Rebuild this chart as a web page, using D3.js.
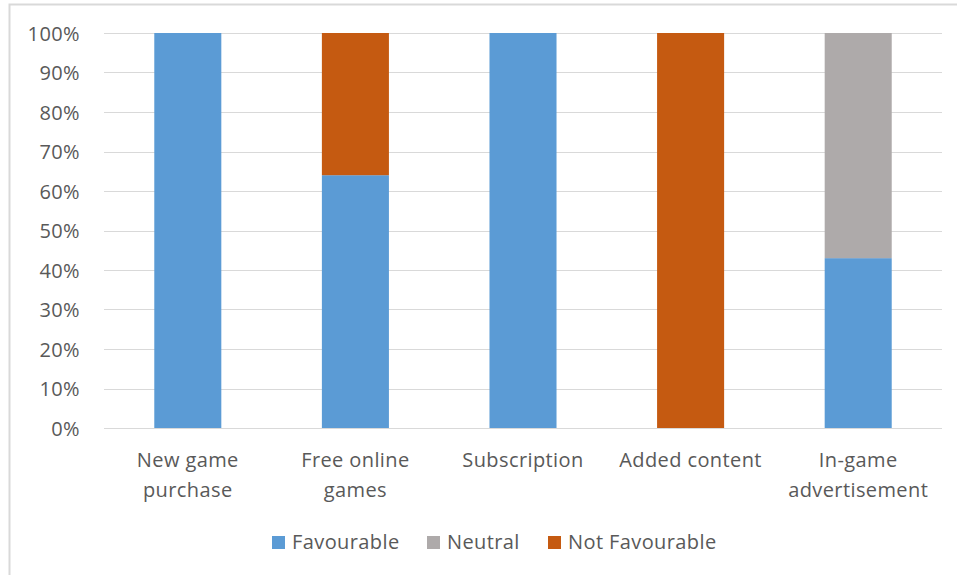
<!DOCTYPE html>
<html><head><meta charset="utf-8">
<script src="https://cdn.jsdelivr.net/npm/d3@7"></script>
<style>body{margin:0;background:#fff}svg{display:block}text{font-family:"Open Sans","Noto Sans",sans-serif;fill:#595959;letter-spacing:0.4px}</style>
</head><body><svg id="c" width="957" height="575"></svg>
<script>
const categories = [["New game","purchase"],["Free online","games"],["Subscription"],["Added content"],["In-game","advertisement"]];
const seriesNames = ["Favourable","Neutral","Not Favourable"];
const favourable = [100, 64, 100, 0, 43];
const neutral = [0, 0, 0, 0, 57];
const notFavourable = [0, 36, 0, 100, 0];
const yTicks = [0,10,20,30,40,50,60,70,80,90,100];
const colors = ["#5b9bd5","#aeaaaa","#c55a11"];
const FS = "20px";

const svg = d3.select("#c");
svg.append("rect").attr("x",9.5).attr("y",4.5).attr("width",960).attr("height",600).attr("fill","none").attr("stroke","#d9d9d9").attr("stroke-width",2);

const pL=104, pR=942, pT=33, pB=428;
const x = d3.scaleBand().domain(d3.range(categories.length)).range([pL,pR]).paddingInner(0.6).paddingOuter(0.3);
const y = d3.scaleLinear().domain([0,100]).range([pB,pT]);

const g = svg.append("g");
g.selectAll("line.grid").data(yTicks).join("line").attr("x1",pL).attr("x2",pR)
 .attr("y1",d=>Math.round(y(d))+0.5).attr("y2",d=>Math.round(y(d))+0.5).attr("stroke","#d9d9d9").attr("stroke-width",1);

const yAxis = d3.axisLeft(y).tickValues(yTicks).tickFormat(d=>d+"%").tickSize(0).tickPadding(24);
const ya = svg.append("g").attr("transform",`translate(${pL},0)`).call(yAxis);
ya.select(".domain").remove();
ya.attr("font-family",null).attr("font-size",null);
ya.selectAll("text").style("font-size",FS).attr("fill","#595959").attr("dy","0.35em");

const data = categories.map((c,i)=>({i, Favourable:favourable[i], Neutral:neutral[i], "Not Favourable":notFavourable[i]}));
const stack = d3.stack().keys(seriesNames)(data);
svg.append("g").selectAll("g").data(stack).join("g").attr("fill",(d,i)=>colors[i])
 .selectAll("rect").data(d=>d).join("rect")
 .attr("x",d=>x(d.data.i)).attr("width",x.bandwidth())
 .attr("y",d=>y(d[1])).attr("height",d=>y(d[0])-y(d[1]));

svg.append("line").attr("x1",pL).attr("x2",pR).attr("y1",pB+0.5).attr("y2",pB+0.5).attr("stroke","#d9d9d9");

const xl = svg.append("g");
categories.forEach((c,i)=>{
  const cx = x(i)+x.bandwidth()/2;
  const t = xl.append("text").attr("x",cx).attr("y",467).attr("text-anchor","middle").style("font-size",FS);
  c.forEach((l,j)=>t.append("tspan").attr("x",cx).attr("dy",j?30:0).text(l));
});

const lg = svg.append("g");
const legX = [272, 427, 548];
seriesNames.forEach((s,i)=>{
  lg.append("rect").attr("x",legX[i]).attr("y",536).attr("width",13).attr("height",13).attr("fill",colors[i]);
  lg.append("text").attr("x",legX[i]+20).attr("y",549).style("font-size",FS).text(s);
});
</script></body></html>
